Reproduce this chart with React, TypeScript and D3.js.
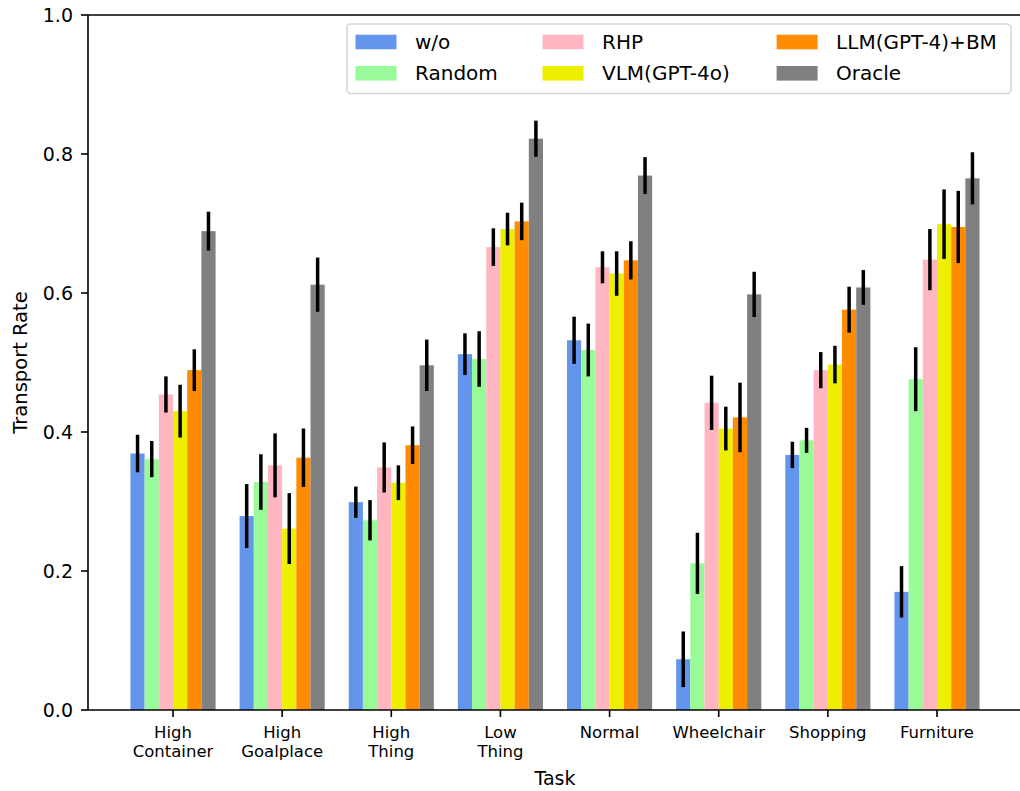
import * as React from "react";
import * as d3 from "d3";

const categories = [
  ["High", "Container"],
  ["High", "Goalplace"],
  ["High", "Thing"],
  ["Low", "Thing"],
  ["Normal"],
  ["Wheelchair"],
  ["Shopping"],
  ["Furniture"],
];

const seriesNames = ["w/o", "Random", "RHP", "VLM(GPT-4o)", "LLM(GPT-4)+BM", "Oracle"];
const seriesColors = ["#6495ED", "#98FB98", "#FFB6C1", "#EEEE00", "#FF8C00", "#808080"];

const wo = [0.369, 0.279, 0.299, 0.512, 0.532, 0.073, 0.367, 0.17];
const woErr = [0.027, 0.046, 0.0225, 0.03, 0.034, 0.04, 0.019, 0.037];
const random = [0.361, 0.328, 0.273, 0.505, 0.518, 0.211, 0.388, 0.476];
const randomErr = [0.026, 0.04, 0.029, 0.04, 0.038, 0.044, 0.018, 0.046];
const rhp = [0.454, 0.352, 0.349, 0.666, 0.637, 0.442, 0.489, 0.648];
const rhpErr = [0.026, 0.046, 0.036, 0.027, 0.023, 0.039, 0.026, 0.044];
const vlm = [0.43, 0.261, 0.327, 0.692, 0.628, 0.405, 0.497, 0.699];
const vlmErr = [0.038, 0.051, 0.025, 0.0235, 0.032, 0.0315, 0.027, 0.05];
const llm = [0.489, 0.363, 0.381, 0.703, 0.647, 0.421, 0.576, 0.695];
const llmErr = [0.03, 0.042, 0.027, 0.027, 0.0275, 0.05, 0.033, 0.052];
const oracle = [0.689, 0.612, 0.496, 0.822, 0.769, 0.598, 0.608, 0.765];
const oracleErr = [0.028, 0.039, 0.037, 0.026, 0.0265, 0.0325, 0.025, 0.0375];

const yTicks = [0, 0.2, 0.4, 0.6, 0.8, 1.0];

const values = [wo, random, rhp, vlm, llm, oracle];
const errors = [woErr, randomErr, rhpErr, vlmErr, llmErr, oracleErr];

const font = "DejaVu Sans";

function App() {
  const width = 1020;
  const height = 791;
  const barW = 0.13;

  const x = d3.scaleLinear().domain([-0.779, 7.779]).range([88, 1022]);
  const y = d3.scaleLinear().domain([0, 1]).range([710, 15]);

  const bars = () => {
    return values.map((vals, s) => (
      <g key={"s" + s}>
        {vals.map((v, i) => {
          const cx = i + (s - 2.5) * barW;
          return (
            <rect
              key={i}
              x={x(cx - barW / 2)}
              y={y(v)}
              width={x(barW) - x(0)}
              height={y(0) - y(v)}
              fill={seriesColors[s]}
            />
          );
        })}
      </g>
    ));
  };

  const errBars = () => {
    return values.map((vals, s) => (
      <g key={"e" + s}>
        {vals.map((v, i) => {
          const cx = x(i + (s - 2.5) * barW);
          const e = errors[s][i];
          return (
            <line
              key={i}
              x1={cx}
              x2={cx}
              y1={y(v - e)}
              y2={y(v + e)}
              stroke="black"
              strokeWidth={3.5}
            />
          );
        })}
      </g>
    ));
  };

  const xAxis = () => (
    <g>
      {categories.map((lines, i) => (
        <g key={i} transform={`translate(${x(i)}, 710)`}>
          <line y1={0} y2={7} stroke="black" strokeWidth={1.6} />
          <text textAnchor="middle" fontSize={16.5} fontFamily={font} fill="#000">
            {lines.map((t, j) => (
              <tspan key={j} x={0} y={28 + j * 18.5}>
                {t}
              </tspan>
            ))}
          </text>
        </g>
      ))}
      <text x={555} y={785} textAnchor="middle" fontSize={19} fontFamily={font}>
        Task
      </text>
    </g>
  );

  const yAxis = () => (
    <g>
      {yTicks.map((d) => (
        <g key={d} transform={`translate(88, ${y(d)})`}>
          <line x1={0} x2={-7} stroke="black" strokeWidth={1.6} />
          <text
            x={-15}
            y={0}
            textAnchor="end"
            dominantBaseline="central"
            fontSize={19}
            fontFamily={font}
          >
            {d.toFixed(1)}
          </text>
        </g>
      ))}
      <text
        transform={`translate(20, ${(y(0) + y(1)) / 2}) rotate(-90)`}
        textAnchor="middle"
        dominantBaseline="central"
        fontSize={19.5}
        fontFamily={font}
      >
        Transport Rate
      </text>
    </g>
  );

  const legend = () => {
    const colX = [355.5, 542.5, 776.6];
    const rowY = [42, 73.3];
    return (
      <g>
        <rect
          x={347}
          y={24}
          width={664}
          height={69.5}
          rx={4}
          fill="white"
          fillOpacity={0.8}
          stroke="#d6d6d6"
          strokeWidth={1.6}
        />
        {seriesNames.map((name, s) => {
          const cx = colX[Math.floor(s / 2)];
          const cy = rowY[s % 2];
          return (
            <g key={name}>
              <rect x={cx} y={cy - 7.3} width={41} height={14.6} fill={seriesColors[s]} />
              <text
                x={cx + 59.5}
                y={cy}
                dominantBaseline="central"
                fontSize={20}
                fontFamily={font}
              >
                {name}
              </text>
            </g>
          );
        })}
      </g>
    );
  };

  return (
    <svg
      width={width}
      height={height}
      style={{ position: "absolute", left: 0, top: 0, background: "white" }}
    >
      {bars()}
      {errBars()}
      <line x1={88} x2={1022} y1={710} y2={710} stroke="black" strokeWidth={1.6} />
      <line x1={88} x2={1022} y1={15} y2={15} stroke="black" strokeWidth={1.6} />
      <line x1={88} x2={88} y1={15} y2={710} stroke="black" strokeWidth={1.6} />
      <line x1={1022} x2={1022} y1={15} y2={710} stroke="black" strokeWidth={1.6} />
      {xAxis()}
      {yAxis()}
      {legend()}
    </svg>
  );
}

export default App;
